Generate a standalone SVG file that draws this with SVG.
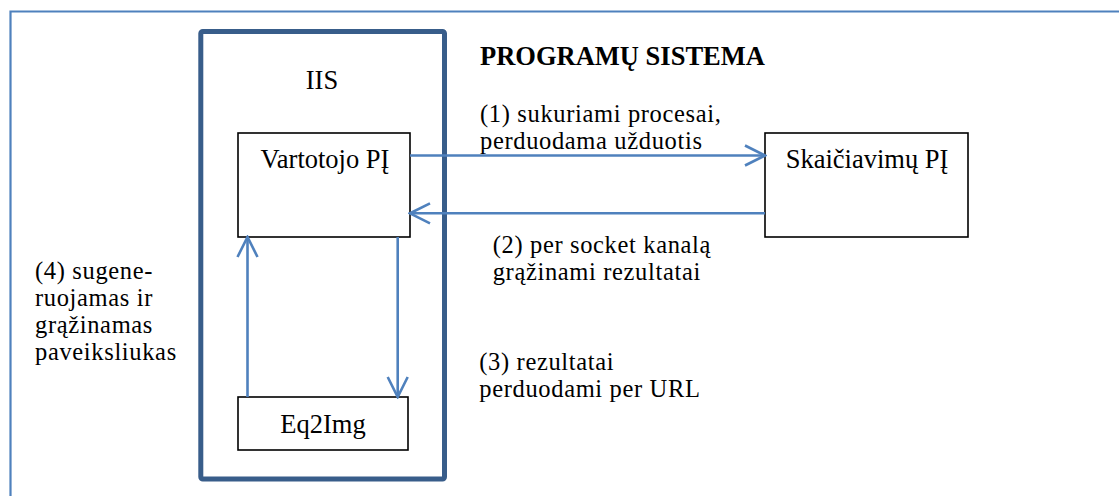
<svg xmlns="http://www.w3.org/2000/svg" width="1119" height="496" viewBox="0 0 1119 496">
  <style>
    text { font-family: 'Liberation Serif', 'Times New Roman', serif; fill: #000; }
    .name { font-size: 26.5px; }
    .note { font-size: 24.5px; letter-spacing: 0.65px; }
    .bold { font-weight: bold; }
    .mid { text-anchor: middle; }
    .box { fill: #fff; stroke: #000; stroke-width: 1.6; }
    .link { fill: none; stroke: #4f81bd; stroke-width: 2.6; marker-end: url(#head); }
  </style>
  <defs>
    <!-- open V arrowhead shared by every connector -->
    <marker id="head" markerUnits="userSpaceOnUse" viewBox="-22 -12 24 24" markerWidth="24" markerHeight="24" refX="0" refY="0" orient="auto">
      <polyline points="-20,-10 0,0 -20,10" fill="none" stroke="#4f81bd" stroke-width="2.6"/>
    </marker>
  </defs>

  <rect width="1119" height="496" fill="#fff"/>

  <!-- outer frame: only top and left edges fall inside the page -->
  <path d="M10.5,496 V11.5 H1119" fill="none" stroke="#4f81bd" stroke-width="2.2"/>

  <g id="iis">
    <rect x="200.8" y="31.5" width="243.7" height="447.5" rx="2" fill="none" stroke="#385d8a" stroke-width="5"/>
    <text x="322" y="89" class="name mid">IIS</text>
  </g>

  <g id="title">
    <text x="480" y="65" class="name bold">PROGRAMŲ SISTEMA</text>
  </g>

  <g id="vartotojo">
    <rect x="238" y="133" width="172" height="104" class="box"/>
    <text x="325" y="168.3" class="name mid">Vartotojo PĮ</text>
  </g>

  <g id="skaiciavimu">
    <rect x="765" y="133" width="203" height="104" class="box"/>
    <text x="867" y="168.3" class="name mid">Skaičiavimų PĮ</text>
  </g>

  <g id="eq2img">
    <rect x="238" y="397" width="170" height="53" class="box"/>
    <text x="323" y="433.3" class="name mid">Eq2Img</text>
  </g>

  <g id="connectors">
    <line x1="410" y1="155.5" x2="765" y2="155.5" class="link"/>
    <line x1="765" y1="213.3" x2="410" y2="213.3" class="link"/>
    <line x1="397.7" y1="237" x2="397.7" y2="397" class="link"/>
    <line x1="247.5" y1="397" x2="247.5" y2="237" class="link"/>
  </g>

  <g id="labels">
    <text x="480" y="122" class="note">(1) sukuriami procesai,</text>
    <text x="480" y="148.5" class="note">perduodama užduotis</text>
    <text x="492.7" y="253.3" class="note">(2) per socket kanalą</text>
    <text x="492.7" y="280" class="note">grąžinami rezultatai</text>
    <text x="479.3" y="370" class="note">(3) rezultatai</text>
    <text x="479.3" y="396.7" class="note">perduodami per URL</text>
    <text x="35" y="279.3" class="note">(4) sugene-</text>
    <text x="35" y="306.3" class="note">ruojamas ir</text>
    <text x="35" y="333.3" class="note">grąžinamas</text>
    <text x="35" y="360" class="note">paveiksliukas</text>
  </g>
</svg>
